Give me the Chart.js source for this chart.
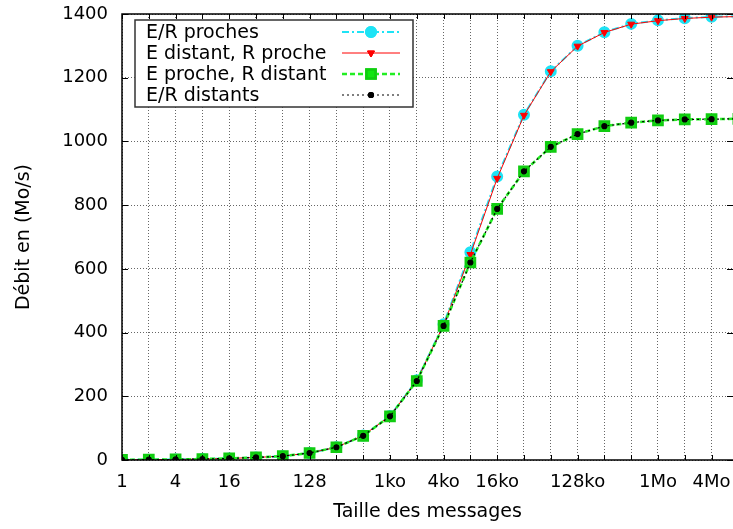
<!DOCTYPE html>
<html>
<head>
<meta charset="utf-8">
<script src="https://cdn.jsdelivr.net/npm/chart.js@4.4.1/dist/chart.umd.min.js"></script>
<style>
  html, body { margin: 0; padding: 0; background: #fff; overflow: hidden; }
  #wrap { width: 733px; height: 529px; position: relative; }
</style>
</head>
<body>
<div id="wrap"><canvas id="chart"></canvas></div>
<script>
// message sizes (bytes), one point per power of two
const sizes = [1, 2, 4, 8, 16, 32, 64, 128, 256, 512, 1024, 2048, 4096, 8192,
    16384, 32768, 65536, 131072, 262144, 524288, 1048576, 2097152, 4194304, 8388608];

// throughput in Mo/s
const procheProche = [0.5, 1, 1.8, 3, 5, 8, 12, 22, 40, 77, 138, 250, 426, 652,
    890, 1084, 1220, 1300, 1343, 1369, 1380, 1387, 1391, 1393];
const distantProche = [0.5, 1, 1.8, 3, 5, 8, 12, 22, 40, 77, 138, 249, 424, 645,
    884, 1082, 1219, 1299, 1342, 1368, 1379, 1386, 1390, 1392];
const procheDistant = [0.5, 1, 1.8, 3, 5, 8, 12, 22, 40, 76, 137, 248, 421, 620,
    788, 906, 983, 1023, 1048, 1059, 1066, 1069, 1070, 1071];
const distantDistant = [0.5, 1, 1.8, 3, 5, 8, 12, 22, 40, 76, 137, 248, 421, 620,
    788, 906, 983, 1023, 1048, 1059, 1066, 1069, 1070, 1071];

const seriesNames = ['E/R proches', 'E distant, R proche', 'E proche, R distant', 'E/R distants'];

// x ticks (every power of two gets a grid line, only some get a label)
const xTickValues = sizes.slice(0, 23);
const xTickLabels = ['1', '', '4', '', '16', '', '', '128', '', '', '1ko', '', '4ko', '',
    '16ko', '', '', '128ko', '', '', '1Mo', '', '4Mo'];
const yTicks = [0, 200, 400, 600, 800, 1000, 1200, 1400];

const FONT = 'DejaVu Sans';

function toPoints(arr) {
    return sizes.map(function (s, i) { return {x: s, y: arr[i]}; });
}

// frame + inward tick marks like gnuplot
const framePlugin = {
    id: 'frame',
    afterDatasetsDraw: function (chart) {
        const ctx = chart.ctx;
        const a = chart.chartArea;
        const xs = chart.scales.x, ys = chart.scales.y;
        ctx.save();
        ctx.strokeStyle = '#000';
        ctx.lineWidth = 1;
        ctx.beginPath();
        xTickValues.forEach(function (v) {
            const px = Math.round(xs.getPixelForValue(v)) + 0.5;
            ctx.moveTo(px, a.bottom); ctx.lineTo(px, a.bottom - 5);
            ctx.moveTo(px, a.top); ctx.lineTo(px, a.top + 5);
        });
        yTicks.forEach(function (v) {
            const py = Math.round(ys.getPixelForValue(v)) + 0.5;
            ctx.moveTo(a.left, py); ctx.lineTo(a.left + 6, py);
            ctx.moveTo(a.right, py); ctx.lineTo(a.right - 6, py);
        });
        ctx.stroke();
        ctx.lineWidth = 1.5;
        ctx.strokeRect(a.left, a.top, a.right - a.left + 2, a.bottom - a.top);
        ctx.restore();
    }
};

// gnuplot style key: text left, sample on the right
const keyPlugin = {
    id: 'key',
    afterDraw: function (chart) {
        const ctx = chart.ctx;
        const box = {x: 135, y: 20, w: 278, h: 87};
        ctx.save();
        ctx.fillStyle = '#fff';
        ctx.fillRect(box.x, box.y, box.w, box.h);
        ctx.strokeStyle = '#333';
        ctx.lineWidth = 1.5;
        ctx.strokeRect(box.x, box.y, box.w, box.h);
        chart.data.datasets.forEach(function (ds, i) {
            const cy = 32 + i * 21;
            ctx.fillStyle = '#000';
            ctx.font = '19px "' + FONT + '"';
            ctx.textBaseline = 'middle';
            ctx.textAlign = 'left';
            ctx.fillText(ds.label, 146, cy + 1);
            ctx.strokeStyle = ds.borderColor;
            ctx.lineWidth = ds.borderWidth;
            ctx.setLineDash(ds.borderDash || []);
            ctx.beginPath();
            ctx.moveTo(342, cy); ctx.lineTo(400, cy);
            ctx.stroke();
            ctx.setLineDash([]);
            Chart.helpers.drawPoint(ctx, {
                pointStyle: ds.pointStyle,
                rotation: ds.pointRotation || 0,
                radius: ds.pointRadius,
                borderWidth: 1
            }, 371, cy);
            ctx.fillStyle = ds.pointBackgroundColor;
            ctx.strokeStyle = ds.pointBorderColor;
            ctx.fill();
            ctx.stroke();
        });
        ctx.restore();
    }
};

const ctx = document.getElementById('chart').getContext('2d');
new Chart(ctx, {
    type: 'line',
    data: {
        datasets: [{
            label: seriesNames[0],
            data: toPoints(procheProche),
            borderColor: '#1ee3f5',
            borderWidth: 2,
            borderDash: [7, 3, 2, 3],
            pointStyle: 'circle',
            pointRadius: 5,
            pointBackgroundColor: '#1ee3f5',
            pointBorderColor: '#1ee3f5',
            order: 4
        }, {
            label: seriesNames[1],
            data: toPoints(distantProche),
            borderColor: '#ff0000',
            borderWidth: 1,
            pointStyle: 'triangle',
            pointRotation: 180,
            pointRadius: 4,
            pointBackgroundColor: '#ff0000',
            pointBorderColor: '#ff0000',
            order: 3
        }, {
            label: seriesNames[2],
            data: toPoints(procheDistant),
            borderColor: '#22ee22',
            borderWidth: 2.5,
            borderDash: [5, 3],
            pointStyle: 'rect',
            pointRadius: 6.5,
            pointBackgroundColor: '#11e611',
            pointBorderColor: '#11cc11',
            order: 2
        }, {
            label: seriesNames[3],
            data: toPoints(distantDistant),
            borderColor: '#000000',
            borderWidth: 1.2,
            borderDash: [2, 3],
            pointStyle: 'circle',
            pointRadius: 2.5,
            pointBackgroundColor: '#000000',
            pointBorderColor: '#000000',
            order: 1
        }]
    },
    options: {
        responsive: true,
        maintainAspectRatio: false,
        animation: false,
        events: [],
        layout: {autoPadding: false, padding: {top: 14, right: 0, bottom: 0, left: 0}},
        plugins: {legend: {display: false}, tooltip: {enabled: false}},
        scales: {
            x: {
                type: 'logarithmic',
                min: 1,
                max: Math.pow(2, 22.8),
                afterBuildTicks: function (scale) {
                    scale.ticks = xTickValues.map(function (v) { return {value: v}; });
                },
                afterFit: function (scale) {
                    scale.height = 69;
                    scale.paddingLeft = 0;
                    scale.paddingRight = 0;
                },
                grid: {color: 'rgba(0,0,0,0.6)', lineWidth: 1, drawTicks: false},
                border: {display: false, dash: [1, 2]},
                ticks: {
                    autoSkip: false,
                    maxRotation: 0,
                    padding: 12,
                    color: '#000',
                    font: {family: FONT, size: 18},
                    callback: function (value) {
                        const i = xTickValues.indexOf(value);
                        return i >= 0 ? xTickLabels[i] : '';
                    }
                },
                title: {
                    display: true,
                    text: 'Taille des messages',
                    color: '#000',
                    font: {family: FONT, size: 19},
                    padding: {top: 0, bottom: 6}
                }
            },
            y: {
                min: 0,
                max: 1400,
                afterFit: function (scale) {
                    scale.width = 122;
                    scale.paddingTop = 0;
                    scale.paddingBottom = 0;
                },
                grid: {color: 'rgba(0,0,0,0.6)', lineWidth: 1, drawTicks: false},
                border: {display: false, dash: [1, 2]},
                ticks: {
                    stepSize: 200,
                    padding: 14,
                    color: '#000',
                    font: {family: FONT, size: 18},
                    callback: function (value) { return String(value); }
                },
                title: {
                    display: true,
                    text: 'Débit en (Mo/s)',
                    color: '#000',
                    font: {family: FONT, size: 19},
                    padding: {top: 13, bottom: 0}
                }
            }
        }
    },
    plugins: [framePlugin, keyPlugin]
});
</script>
</body>
</html>
